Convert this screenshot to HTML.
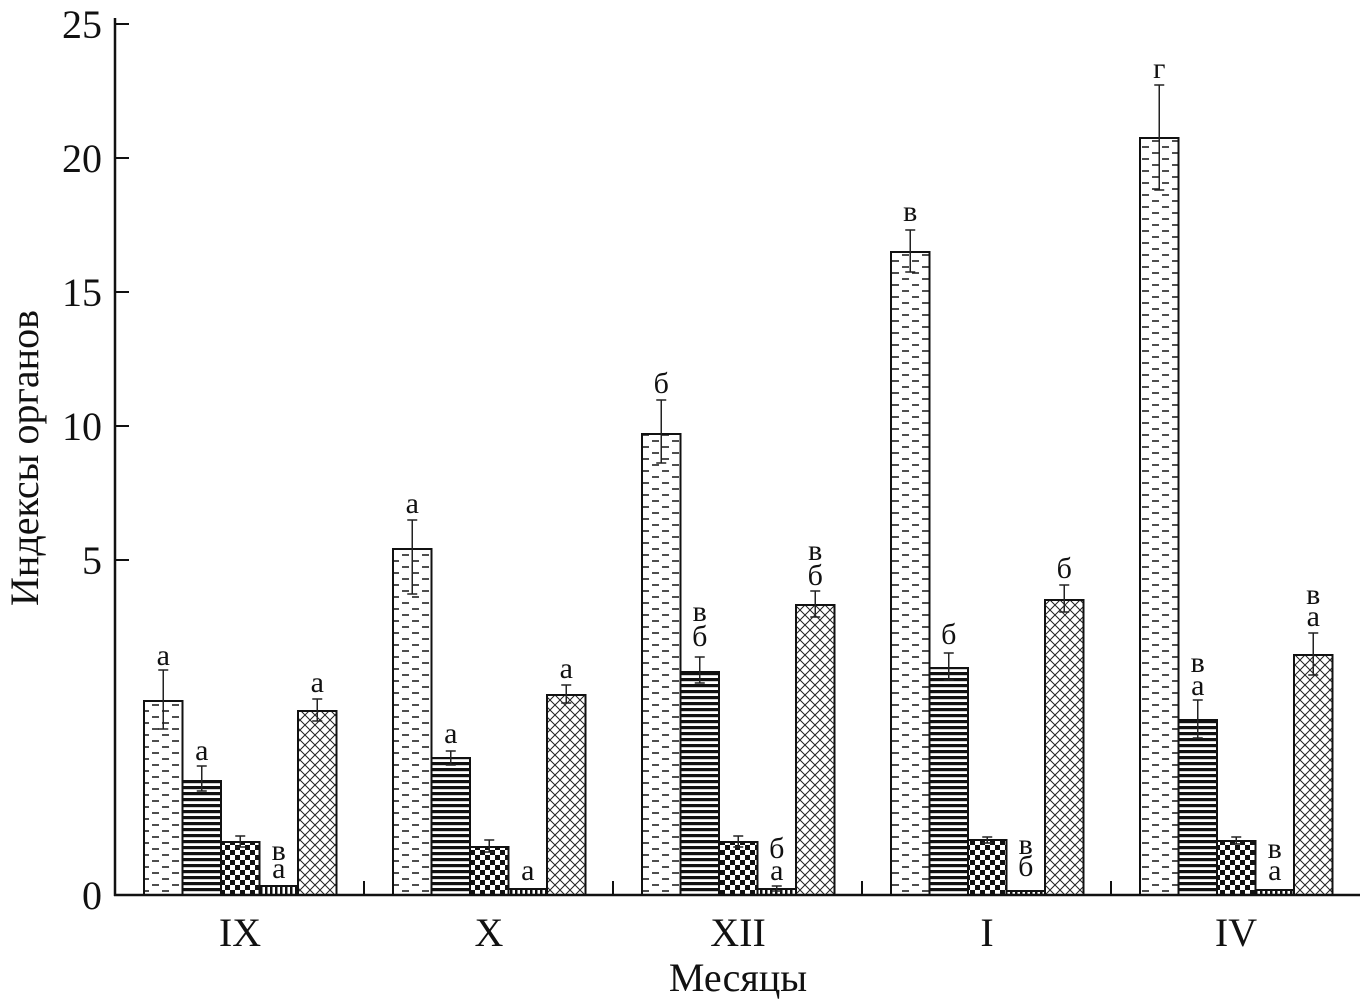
<!DOCTYPE html>
<html><head><meta charset="utf-8"><style>
html,body{margin:0;padding:0;background:#fff;}
svg{display:block;}
text{font-family:"Liberation Serif","DejaVu Serif",serif;fill:#111;}
</style></head><body>
<svg id="s" width="1360" height="1004" xmlns="http://www.w3.org/2000/svg">
<defs>
<pattern id="p1" width="20" height="12" patternUnits="userSpaceOnUse">
<line x1="2" y1="3" x2="9" y2="3" stroke="#222" stroke-width="1.6"/>
<line x1="12" y1="9" x2="19" y2="9" stroke="#222" stroke-width="1.6"/>
</pattern>
<pattern id="p2" width="10" height="6" patternUnits="userSpaceOnUse">
<rect x="0" y="0" width="10" height="3.2" fill="#111"/>
</pattern>
<pattern id="p3" width="10" height="10" patternUnits="userSpaceOnUse">
<rect x="0" y="0" width="5" height="5" fill="#111"/><rect x="5" y="5" width="5" height="5" fill="#111"/>
</pattern>
<pattern id="p4" width="5" height="10" patternUnits="userSpaceOnUse">
<rect x="0" y="0" width="2.5" height="10" fill="#111"/>
</pattern>
<pattern id="p5" width="10" height="10" patternUnits="userSpaceOnUse">
<line x1="0" y1="0" x2="10" y2="10" stroke="#222" stroke-width="1"/>
<line x1="10" y1="0" x2="0" y2="10" stroke="#222" stroke-width="1"/>
</pattern>
</defs>
<g id="g"></g>
</svg>
<script>
var g=document.getElementById('g'),h='';
var starts=[144,393,642,891,1140],bw=38.5,base=895;
var tops=[[701,781,842,886,711],[549,758,847,889,695],[434,672,842,889,605],[252,668,840,891,600],[138,720,841,890,655]];
var errs=[[[670,729],[766,791],[836,847],null,[699,721]],[[520,594],[751,765],[840,852],null,[685,703]],[[400,463],[657,683],[836,847],[886,891],[591,617]],[[230,272],[653,680],[837,843],null,[585,612]],[[85,190],[700,738],[837,844],null,[633,675]]];
var labs=[[[655,'а'],[750,'а'],null,[850,'в',868,'а'],[682,'а']],
[[503,'а'],[733,'а'],null,[870,'а'],[668,'а']],
[[383,'б'],[611,'в',636,'б'],null,[848,'б',870,'а'],[550,'в',575,'б']],
[[211,'в'],[634,'б'],null,[844,'в',866,'б'],[568,'б']],
[[68,'г'],[662,'в',685,'а'],null,[848,'в',870,'а'],[594,'в',616,'а']]];
for(var i=0;i<5;i++)for(var j=0;j<5;j++){
 var x=starts[i]+j*bw,t=tops[i][j];
 h+='<rect x="'+x+'" y="'+t+'" width="'+bw+'" height="'+(base-t)+'" fill="url(#p'+(j+1)+')" stroke="#111" stroke-width="2"/>';
 var e=errs[i][j],cx=x+bw/2;
 if(e)h+='<path d="M'+cx+' '+e[0]+'V'+e[1]+'M'+(cx-5)+' '+e[0]+'h10M'+(cx-5)+' '+e[1]+'h10" stroke="#222" stroke-width="1.5"/>';
 var l=labs[i][j];
 if(l){for(var k=0;k<l.length;k+=2)h+='<text x="'+cx+'" y="'+(l[k]+10)+'" font-size="30" text-anchor="middle">'+l[k+1]+'</text>';}
}
h+='<path d="M115 18V896M114 895H1360" stroke="#111" stroke-width="2.5" fill="none"/>';
var yt=[[24,'25'],[158,'20'],[292,'15'],[426,'10'],[560,'5'],[895,'0']];
yt.forEach(function(a){h+='<path d="M115 '+a[0]+'H129" stroke="#111" stroke-width="2"/><text x="102" y="'+(a[0]+14)+'" font-size="40" text-anchor="end">'+a[1]+'</text>';});
[364,613,862,1111].forEach(function(x){h+='<path d="M'+x+' 895V881" stroke="#111" stroke-width="2"/>';});
var ml=['IX','X','XII','I','IV'];
for(var i=0;i<5;i++)h+='<text x="'+(starts[i]+96)+'" y="946" font-size="40" text-anchor="middle">'+ml[i]+'</text>';
h+='<text x="738" y="991" font-size="40" text-anchor="middle">Месяцы</text>';
h+='<text transform="translate(38 458) rotate(-90)" font-size="40" text-anchor="middle">Индексы органов</text>';
g.innerHTML=h;
</script>
</body></html>
